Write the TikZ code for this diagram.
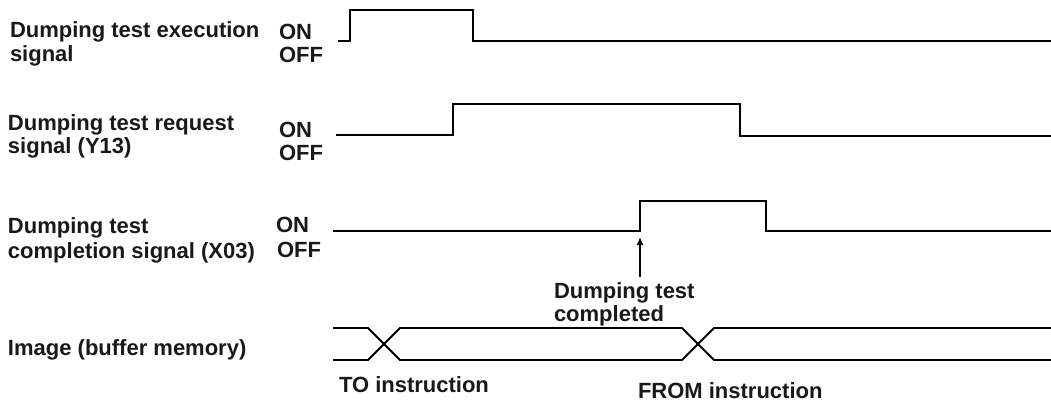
\documentclass[tikz,border=0pt]{standalone}
\usepackage{fontspec}
\usetikzlibrary{arrows.meta}
\setmainfont{Liberation Sans}
\tikzset{
  lbl/.style={anchor=base west,inner sep=0pt,outer sep=0pt,font=\fontsize{22}{24}\selectfont\bfseries,text=black!90},
  wave/.style={draw=black,line width=2pt,line join=miter},
  thin wave/.style={draw=black,line width=1.8pt}
}
\begin{document}
\begin{tikzpicture}[x=1pt,y=-1pt]
\useasboundingbox (0,0) rectangle (1051,401);
% labels
\node[lbl] (a1) at (10,38) {Dumping test execution};
\node[lbl] (a2) at (10,62) {signal};
\node[lbl] (aon) at (279,40) {ON};
\node[lbl] (aoff) at (279,63) {OFF};
\node[lbl] (b1) at (8,130) {Dumping test request};
\node[lbl] (b2) at (8,153) {signal (Y13)};
\node[lbl] (bon) at (279,137) {ON};
\node[lbl] (boff) at (279,160) {OFF};
\node[lbl] (c1) at (8,233) {Dumping test};
\node[lbl] (c2) at (8,258) {completion signal (X03)};
\node[lbl] (con) at (276,232) {ON};
\node[lbl] (coff) at (277,257) {OFF};
\node[lbl] (d1) at (8,355) {Image (buffer memory)};
\node[lbl] (to) at (339,392) {TO instruction};
\node[lbl] (from) at (638,398) {FROM instruction};
\node[lbl] (dt1) at (554,298) {Dumping test};
\node[lbl] (dt2) at (554,321) {completed};
% waveforms
\draw[wave] (338,41) -- (350,41) -- (350,10) -- (473,10) -- (473,41) -- (1051,41);
\draw[wave] (336,135) -- (453,135) -- (453,104) -- (740,104) -- (740,136) -- (1051,136);
\draw[wave] (333,231) -- (640,231) -- (640,201) -- (766,201) -- (766,231) -- (1051,231);
% image
\draw[thin wave] (333,328) -- (368,328) -- (400,360) -- (682,360) -- (714,328) -- (1051,328);
\draw[thin wave] (333,360) -- (368,360) -- (400,328) -- (682,328) -- (714,360) -- (1051,360);
% arrow
\coordinate (rise) at (640,237);
\coordinate (tail) at (640,277);
\draw[line width=1.6pt,-{Latex[length=8pt,width=7pt]}] (tail) -- (rise);
\end{tikzpicture}
\end{document}
